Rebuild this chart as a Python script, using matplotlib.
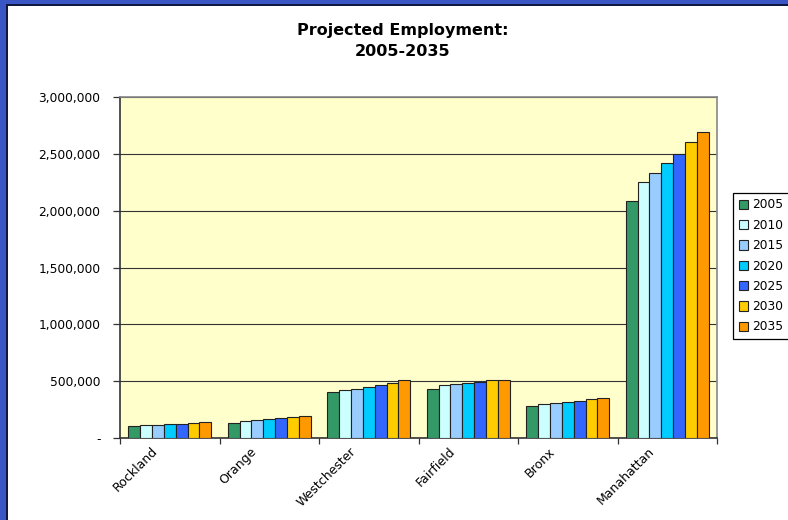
import numpy as np
import matplotlib
matplotlib.use("Agg")
import matplotlib.pyplot as plt
import matplotlib.transforms as mtransforms
from matplotlib.patches import Rectangle
from matplotlib.ticker import FuncFormatter, FixedLocator

counties = ["Rockland", "Orange", "Westchester", "Fairfield", "Bronx", "Manahattan"]
years = ["2005", "2010", "2015", "2020", "2025", "2030", "2035"]

emp_2005 = [106000, 135000, 409000, 432000, 285000, 2085000]
emp_2010 = [115000, 153000, 421000, 462000, 297000, 2253000]
emp_2015 = [115000, 162000, 435000, 479000, 312000, 2333000]
emp_2020 = [124000, 171000, 453000, 488000, 321000, 2420000]
emp_2025 = [124000, 180000, 470000, 497000, 329000, 2500000]
emp_2030 = [135000, 188000, 488000, 508000, 347000, 2600000]
emp_2035 = [144000, 197000, 514000, 514000, 356000, 2690000]
series = [emp_2005, emp_2010, emp_2015, emp_2020, emp_2025, emp_2030, emp_2035]

colors = ["#339966", "#CCFFFF", "#99CCFF", "#00CCFF", "#3366FF", "#FFCC00", "#FF9900"]

plt.rcParams["font.family"] = ["DejaVu Sans"]

fig = plt.figure(figsize=(7.88, 5.20), dpi=100)
fig.patch.set_facecolor("white")

# blue slide frame on left and top
fig.patches.append(Rectangle((0, 0), 7 / 788, 1, transform=fig.transFigure,
                             facecolor="#3a55c4", edgecolor="none", zorder=0))
fig.patches.append(Rectangle((0, 1 - 5 / 520), 1, 5 / 520, transform=fig.transFigure,
                             facecolor="#3a55c4", edgecolor="none", zorder=0))
fig.patches.append(Rectangle((6 / 788, 0), 1.5 / 788, 1 - 4 / 520, transform=fig.transFigure,
                             facecolor="#101840", edgecolor="none", zorder=0))
fig.patches.append(Rectangle((6 / 788, 1 - 5.5 / 520), 1, 1.5 / 520, transform=fig.transFigure,
                             facecolor="#101840", edgecolor="none", zorder=0))

ax = fig.add_axes([120 / 788, 1 - 438 / 520, 597 / 788, 341 / 520])
ax.set_facecolor("#FFFFCC")

x = np.arange(len(counties))
bw = 0.119
n = len(series)
for i, (vals, col, yr) in enumerate(zip(series, colors, years)):
    offs = (i - (n - 1) / 2) * bw
    ax.bar(x + offs, vals, width=bw, color=col, edgecolor="#222222",
           linewidth=0.8, label=yr, zorder=3)

ax.set_xlim(-0.5, len(counties) - 0.5)
ax.set_ylim(0, 3000000)
ax.set_yticks(np.arange(0, 3000001, 500000))
ax.yaxis.set_major_formatter(FuncFormatter(lambda v, p: "-" if v == 0 else f"{int(v):,}"))
ax.grid(axis="y", color="#333333", linewidth=0.8, zorder=1)

ax.xaxis.set_major_locator(FixedLocator(np.arange(-0.5, len(counties), 1.0)))
ax.xaxis.set_major_formatter(FuncFormatter(lambda v, p: ""))
ax.xaxis.set_minor_locator(FixedLocator(x))
ax.set_xticklabels(counties, minor=True, rotation=45, ha="right", va="top",
                   rotation_mode="anchor", fontsize=9)
ax.tick_params(axis="x", which="major", length=4, width=0.9, color="#333333")
ax.tick_params(axis="x", which="minor", length=0, pad=5)
offset = mtransforms.ScaledTranslation(-0.19, 0, fig.dpi_scale_trans)
for lbl in ax.get_xticklabels(minor=True):
    lbl.set_transform(lbl.get_transform() + offset)

ax.tick_params(axis="y", length=5, width=0.9, color="#333333", labelsize=8.8, pad=9)

for side in ["top", "right"]:
    ax.spines[side].set_color("#888888")
    ax.spines[side].set_linewidth(1.2)
for side in ["left", "bottom"]:
    ax.spines[side].set_color("#333333")
    ax.spines[side].set_linewidth(1.2)

fig.text(403 / 788, 1 - 41 / 520, "Projected Employment:\n2005-2035", ha="center", va="center",
         fontsize=11.5, fontweight="bold", linespacing=1.5)

leg = fig.legend(loc="upper left", bbox_to_anchor=(733 / 788, 1 - 193 / 520),
                 fontsize=8.8, frameon=True, fancybox=False, edgecolor="black",
                 framealpha=1, handlelength=0.8, handleheight=0.8, handletextpad=0.3,
                 labelspacing=0.6, borderpad=0.45, borderaxespad=0)
leg.get_frame().set_linewidth(0.9)

fig.savefig("out.png", dpi=100)
